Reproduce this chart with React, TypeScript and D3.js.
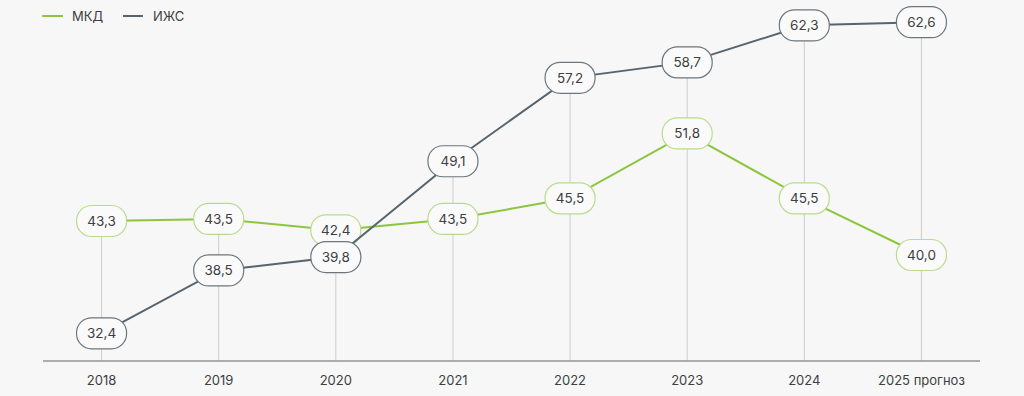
import React from "react";
import * as d3 from "d3";

const years = ["2018", "2019", "2020", "2021", "2022", "2023", "2024", "2025 прогноз"];
const mkd = [43.3, 43.5, 42.4, 43.5, 45.5, 51.8, 45.5, 40.0];
const izhs = [32.4, 38.5, 39.8, 49.1, 57.2, 58.7, 62.3, 62.6];
const seriesNames = ["МКД", "ИЖС"];

const W = 1024;
const H = 396;
const GREEN = "#8cc63f";
const GREEN_BORDER = "#b9dc8c";
const GREY = "#56646e";
const GREY_BORDER = "#6b767e";
const FONT = "Inter, 'Noto Sans', sans-serif";

export default function App() {
  const x = d3.scalePoint<string>().domain(years).range([43, 980]).padding(0.5);
  const y = d3.scaleLinear().domain([30, 63]).range([358, 18.1]);
  const line = d3
    .line<number>()
    .x((_, i) => x(years[i]) as number)
    .y((d) => y(d));

  const fmt = (v: number) => v.toFixed(1).replace(".", ",");
  const pillW = 50;
  const pillH = 31;
  const axisY = 361;

  const pills = (data: number[], border: string) =>
    data.map((v, i) => {
      const cx = x(years[i]) as number;
      const cy = y(v);
      return (
        <g key={i}>
          <rect
            x={cx - pillW / 2}
            y={cy - pillH / 2}
            width={pillW}
            height={pillH}
            rx={15}
            ry={15}
            fill="#fafafa"
            stroke={border}
            strokeWidth={1.2}
          />
          <text
            x={cx}
            y={cy}
            textAnchor="middle"
            dominantBaseline="central"
            fontSize={13.5}
            fill="#3d3f42"
            fontFamily={FONT}
          >
            {fmt(v)}
          </text>
        </g>
      );
    });

  return (
    <div style={{ position: "fixed", left: 0, top: 0, width: W, height: H, background: "#f7f7f7" }}>
      <svg width={W} height={H} style={{ display: "block" }}>
        {/* legend */}
        <g fontFamily={FONT} fontSize={13} fill="#3d3f42">
          <line x1={42} x2={63} y1={16} y2={16} stroke={GREEN} strokeWidth={2} />
          <text x={72} y={16} dominantBaseline="central">{seriesNames[0]}</text>
          <line x1={123} x2={143} y1={16} y2={16} stroke={GREY} strokeWidth={2} />
          <text x={153} y={16} dominantBaseline="central">{seriesNames[1]}</text>
        </g>
        {/* vertical guides */}
        {years.map((yr, i) => {
          const cx = x(yr) as number;
          const top = y(Math.max(mkd[i], izhs[i]));
          return <line key={yr} x1={cx} x2={cx} y1={top} y2={axisY} stroke="#c9ced2" strokeWidth={1} />;
        })}
        {/* axis */}
        <line x1={43} x2={980} y1={axisY} y2={axisY} stroke="#8f969b" strokeWidth={1.5} />
        {years.map((yr) => (
          <text
            key={yr}
            x={x(yr) as number}
            y={380}
            textAnchor="middle"
            dominantBaseline="central"
            fontSize={13}
            fill="#3d3f42"
            fontFamily={FONT}
          >
            {yr}
          </text>
        ))}
        <path d={line(mkd) || ""} fill="none" stroke={GREEN} strokeWidth={2} />
        {pills(mkd, GREEN_BORDER)}
        <path d={line(izhs) || ""} fill="none" stroke={GREY} strokeWidth={2} />
        {pills(izhs, GREY_BORDER)}
      </svg>
    </div>
  );
}
